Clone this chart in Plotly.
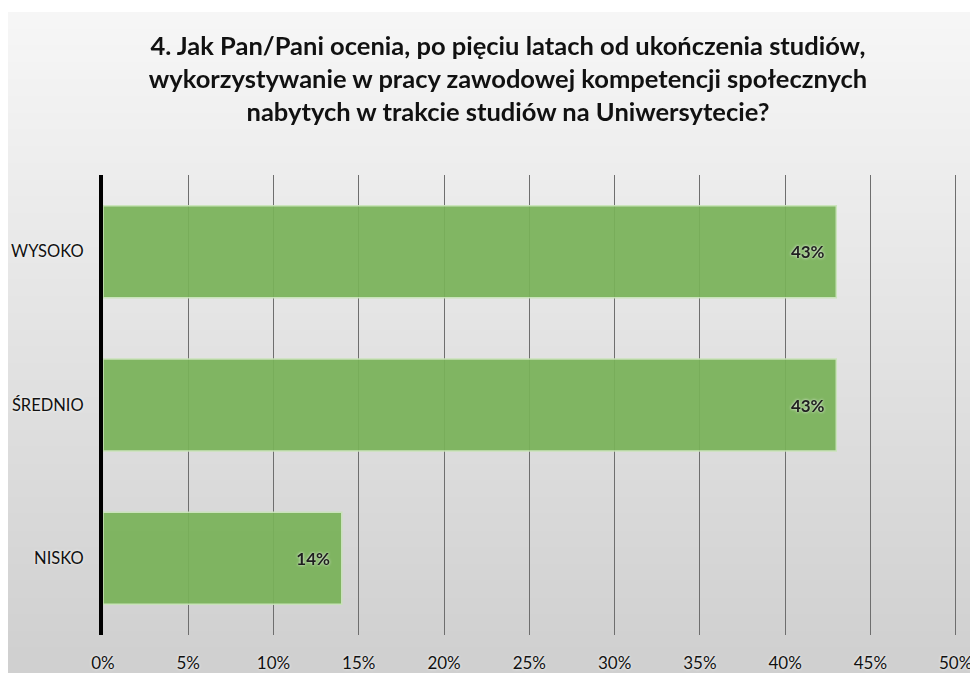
import plotly.graph_objects as go

# survey answers (bottom to top as plotly draws them)
categories = ["NISKO", "ŚREDNIO", "WYSOKO"]
values = [14, 43, 43]
labels = ["14%", "43%", "43%"]

title_text = ("4. Jak Pan/Pani ocenia, po pięciu latach od ukończenia studiów,<br>"
              "wykorzystywanie w pracy zawodowej kompetencji społecznych<br>"
              "nabytych w trakcie studiów na Uniwersytecie?")

W, H = 978, 673
L, R, T, B = 95, 29, 167, 46
pw, ph = W - L - R, H - T - B

def px_x(p):
    return (p - L) / pw

def px_y(p):
    return (H - B - p) / ph

fig = go.Figure(go.Bar(
    y=categories,
    x=values,
    orientation="h",
    width=0.6,
    marker=dict(color="#79b259", line=dict(color="#c9e3b8", width=1.5)),
    opacity=0.93,
    text=labels,
    texttemplate="<b>%{text}</b>&nbsp;&nbsp;",
    textposition="inside",
    insidetextanchor="end",
    insidetextfont=dict(family="Lato", size=17, color="#111111",
                        shadow="0px 0px 3px #ffffff"),
    hoverinfo="skip",
))

# soft grey gradient background, drawn as overlapping bands
shapes = []
n = 40
top, bottom = 4, H
step = (bottom - top) / n
for i in range(n):
    y0 = top + step * i
    y1 = y0 + step + 2
    g = int(246 - (246 - 208) * i / (n - 1))
    shapes.append(dict(type="rect", xref="paper", yref="paper",
                       x0=px_x(0), x1=px_x(W), y0=px_y(y1), y1=px_y(y0),
                       fillcolor=f"rgb({g},{g},{g})", line=dict(width=0),
                       layer="below"))

fig.update_layout(
    width=W, height=H,
    margin=dict(l=L, r=R, t=T, b=B),
    paper_bgcolor="#ffffff",
    plot_bgcolor="rgba(0,0,0,0)",
    shapes=shapes,
    showlegend=False,
    font=dict(family="Lato", size=17, color="#111111"),
    title=dict(
        text=title_text,
        x=(508 - 8) / W, xanchor="center",
        y=1 - 47 / H, yanchor="top",
        font=dict(family="Lato", size=25.5, color="#111111", weight="bold"),
    ),
    xaxis=dict(
        range=[0, 50.08], dtick=5, ticksuffix="%",
        showgrid=True, gridcolor="#6e6e6e", gridwidth=1,
        zeroline=False, showline=False, automargin=False,
        ticks="", ticklabelstandoff=16,
        tickfont=dict(size=17, color="#111111", shadow="0px 0px 3px #ffffff"),
    ),
    yaxis=dict(
        showgrid=False, zeroline=False, automargin=False,
        showline=True, linecolor="#000000", linewidth=4,
        ticks="", ticklabelstandoff=12,
        tickfont=dict(size=16.5, color="#111111", shadow="0px 0px 3px #ffffff"),
    ),
    bargap=0.4,
)

fig.write_html("out.html")
